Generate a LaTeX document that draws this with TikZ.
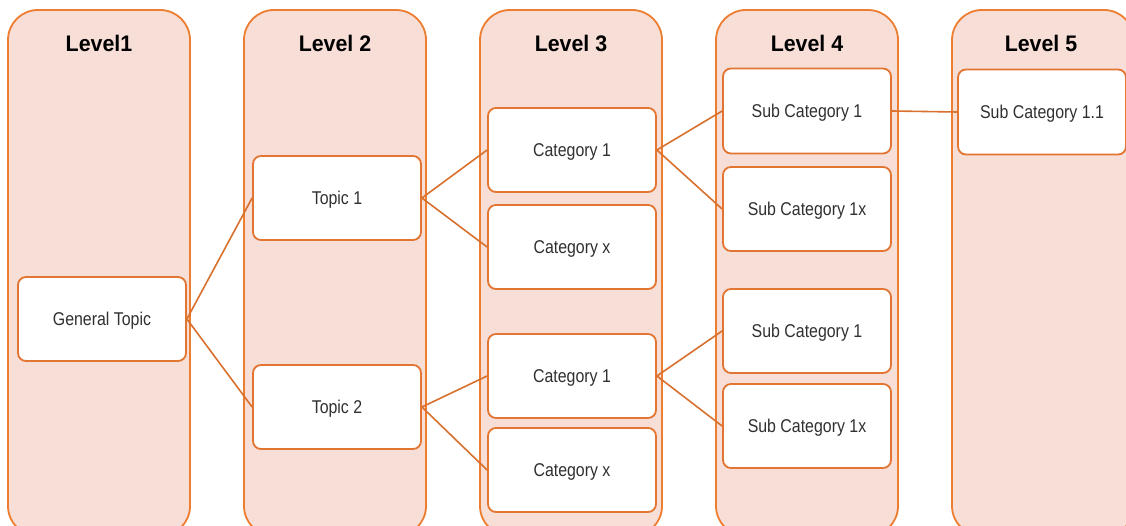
\documentclass[tikz,border=0pt]{standalone}
\usepackage{fontspec}
\setmainfont{Liberation Sans}[FakeStretch=0.86]
\newfontfamily\titlefont{Liberation Sans}[FakeStretch=0.95]
\begin{document}
\begin{tikzpicture}[x=1pt,y=-1pt,
  lane/.style={draw=laneline,fill=lanefill,line width=1.8pt,rounded corners=30pt},
  lanetitle/.style={font=\titlefont\fontsize{22.5}{26}\selectfont\bfseries,text=black,
    text height=16pt,text depth=0pt,inner sep=0pt},
  item/.style={draw=boxline,fill=white,line width=1.8pt,rounded corners=8pt,
    minimum width=168pt,minimum height=84pt,inner sep=0pt,
    text height=13.2pt,text depth=0pt,
    font=\fontsize{18.5}{22}\selectfont,text=textgray},
  link/.style={draw=linkline,line width=1.6pt}]
\definecolor{laneline}{HTML}{ED7D31}
\definecolor{lanefill}{HTML}{F7DED6}
\definecolor{boxline}{HTML}{E27532}
\definecolor{linkline}{HTML}{D8702E}
\definecolor{textgray}{HTML}{303030}
\useasboundingbox (0,0) rectangle (1126,526);
\clip (0,0) rectangle (1126,526);
% five level lanes
\draw[lane] (8,10) rectangle (190,536);
\draw[lane] (244,10) rectangle (426,536);
\draw[lane] (480,10) rectangle (662,536);
\draw[lane] (716,10) rectangle (898,536);
\draw[lane] (952,10) rectangle (1134,536);
\node[lanetitle] (t1) at (99,44) {Level1};
\node[lanetitle] (t2) at (335,44) {Level 2};
\node[lanetitle] (t3) at (571,44) {Level 3};
\node[lanetitle] (t4) at (807,44) {Level 4};
\node[lanetitle] (t5) at (1041,44) {Level 5};
% topic tree
\node[item] (gen) at (102,319) {General Topic};
\node[item] (top1) at (337,198) {Topic 1};
\node[item] (top2) at (337,407) {Topic 2};
\node[item] (c1a) at (572,150) {Category 1};
\node[item] (cxa) at (572,247) {Category x};
\node[item] (c1b) at (572,376) {Category 1};
\node[item] (cxb) at (572,470) {Category x};
\node[item,minimum height=85pt] (s1a) at (807,111) {Sub Category 1};
\node[item] (sxa) at (807,209) {Sub Category 1x};
\node[item] (s1b) at (807,331) {Sub Category 1};
\node[item] (sxb) at (807,426) {Sub Category 1x};
\node[item,minimum height=85pt] (s11) at (1042,112) {Sub Category 1.1};
% connectors
\draw[link] (gen.east) -- (top1.west);
\draw[link] (gen.east) -- (top2.west);
\draw[link] (top1.east) -- (c1a.west);
\draw[link] (top1.east) -- (cxa.west);
\draw[link] (top2.east) -- (c1b.west);
\draw[link] (top2.east) -- (cxb.west);
\draw[link] (c1a.east) -- (s1a.west);
\draw[link] (c1a.east) -- (sxa.west);
\draw[link] (c1b.east) -- (s1b.west);
\draw[link] (c1b.east) -- (sxb.west);
\draw[link] (s1a.east) -- (s11.west);
\end{tikzpicture}
\end{document}
